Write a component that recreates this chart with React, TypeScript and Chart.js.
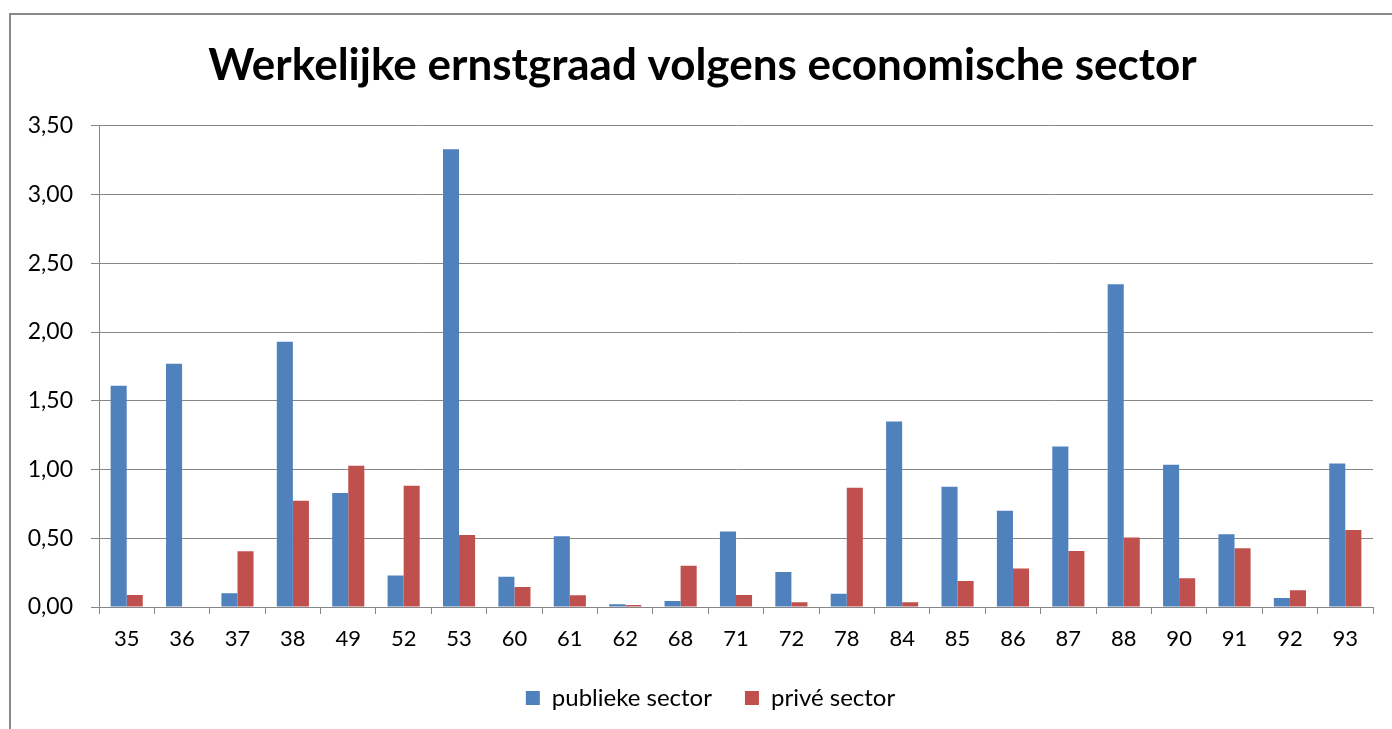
import React, { useEffect, useRef } from "react";
import { Chart, registerables } from "chart.js";

Chart.register(...registerables);

const titleText = "Werkelijke ernstgraad volgens economische sector";
const categories = ["35", "36", "37", "38", "49", "52", "53", "60", "61", "62", "68", "71", "72", "78", "84", "85", "86", "87", "88", "90", "91", "92", "93"];
const publiekeSector = [1.61, 1.77, 0.1, 1.93, 0.83, 0.23, 3.33, 0.22, 0.515, 0.02, 0.044, 0.55, 0.255, 0.097, 1.35, 0.875, 0.7, 1.167, 2.348, 1.035, 0.53, 0.066, 1.043];
const priveSector = [0.0875, 0, 0.406, 0.773, 1.028, 0.882, 0.523, 0.146, 0.085, 0.015, 0.3, 0.0875, 0.034, 0.868, 0.034, 0.19, 0.28, 0.408, 0.505, 0.209, 0.428, 0.122, 0.56];
const seriesNames = ["publieke sector", "privé sector"];
const yMin = 0;
const yMax = 3.5;
const yStep = 0.5;

const FONT = "Lato, 'Open Sans', sans-serif";
const GRID = "#868686";

const framePlugin = {
  id: "frame",
  beforeDraw(chart: any) {
    const ctx = chart.ctx;
    ctx.save();
    ctx.fillStyle = "#ffffff";
    ctx.fillRect(0, 0, chart.width, chart.height);
    ctx.strokeStyle = "#8a8a8a";
    ctx.lineWidth = 2;
    ctx.beginPath();
    ctx.moveTo(10, chart.height + 10);
    ctx.lineTo(10, 14);
    ctx.lineTo(chart.width + 10, 14);
    ctx.stroke();
    ctx.restore();
  },
};

const shiftPlugin = {
  id: "shiftBlocks",
  afterLayout(chart: any) {
    const t = chart.titleBlock;
    if (t) {
      t.left += 16;
      t.right += 16;
    }
    const l = chart.legend;
    if (l) {
      l.left += 24;
      l.right += 24;
    }
  },
};

export default function App() {
  const ref = useRef<HTMLCanvasElement | null>(null);

  useEffect(() => {
    if (!ref.current) return;
    const chart = new Chart(ref.current, {
      type: "bar",
      data: {
        labels: categories,
        datasets: [
          { label: seriesNames[0], data: publiekeSector, backgroundColor: "#4F81BD", borderWidth: 0 },
          { label: seriesNames[1], data: priveSector, backgroundColor: "#C0504D", borderWidth: 0 },
        ],
      },
      options: {
        responsive: false,
        animation: false,
        devicePixelRatio: 1,
        layout: { padding: { left: 0, right: 19, top: 0, bottom: 9 } },
        datasets: {
          bar: { categoryPercentage: 0.58, barPercentage: 1 },
        } as any,
        plugins: {
          title: {
            display: true,
            text: titleText,
            color: "#000",
            font: { family: FONT, size: 44, weight: "bold" },
            padding: { top: 39, bottom: 34 },
          },
          legend: {
            position: "bottom",
            labels: {
              color: "#000",
              font: { family: FONT, size: 24 },
              boxWidth: 14,
              boxHeight: 14,
              padding: 33,
            },
          },
          tooltip: { enabled: false },
        },
        scales: {
          x: {
            afterFit(scale: any) {
              scale.height = 46;
            },
            grid: { display: true, drawOnChartArea: false, drawTicks: true, tickLength: 7, color: GRID, offset: true },
            border: { display: true, color: GRID },
            ticks: { color: "#000", font: { family: FONT, size: 22 }, padding: 12, autoSkip: false, maxRotation: 0 },
          },
          y: {
            min: yMin,
            max: yMax,
            afterFit(scale: any) {
              scale.width = 99;
            },
            grid: { color: GRID, tickLength: 8, drawTicks: true },
            border: { display: true, color: GRID },
            ticks: {
              stepSize: yStep,
              color: "#000",
              font: { family: FONT, size: 23 },
              padding: 18,
              callback: (v: any) => Number(v).toFixed(2).replace(".", ","),
            },
          },
        },
      },
      plugins: [framePlugin, shiftPlugin],
    });
    return () => chart.destroy();
  }, []);

  return (
    <div style={{ position: "absolute", left: 0, top: 0, width: 1392, height: 729, overflow: "hidden", background: "#fff" }}>
      <canvas ref={ref} width={1392} height={729} style={{ display: "block", width: 1392, height: 729 }} />
    </div>
  );
}
